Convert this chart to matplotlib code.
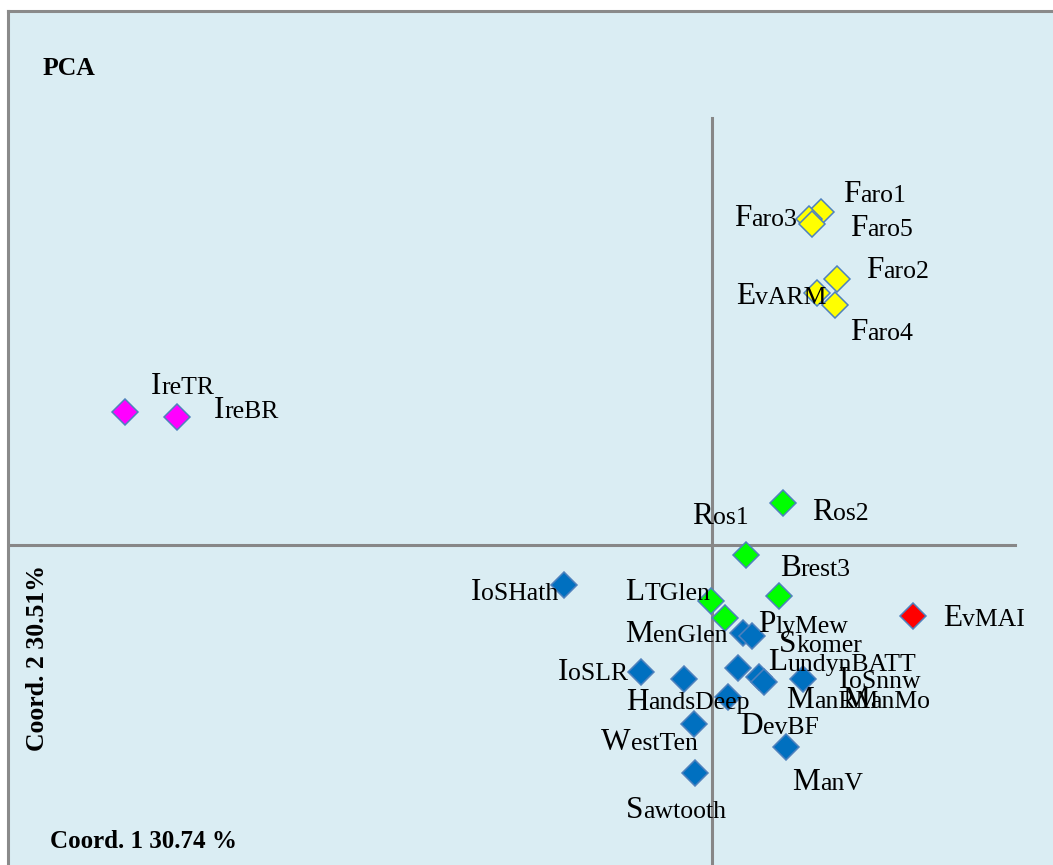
import matplotlib
matplotlib.use("Agg")
import matplotlib.pyplot as plt
from matplotlib.offsetbox import TextArea, HPacker, AnnotationBbox

# SAMPLE NAMES AND PCA COORDINATES
samples = ["Faro1", "Faro3", "Faro5", "Faro2", "EvARM", "Faro4",
           "IreTR", "IreBR",
           "Ros2", "Ros1", "Brest3", "LTGlen", "PlyMew",
           "EvMAI",
           "IoSHath", "MenGlen", "Skomer", "IoSLR", "HandsDeep", "LundynBATT",
           "IoSnnw", "ManRM", "ManMo", "DevBF", "WestTen", "ManV", "Sawtooth"]
coord1 = [1.09, 0.97, 1.00, 1.25, 1.05, 1.23,
          -5.87, -5.35,
          0.71, 0.34, 0.67, -0.01, 0.13,
          2.01,
          -1.48, 0.31, 0.40, -0.71, -0.28, 0.26,
          0.91, 0.47, 0.52, 0.16, -0.18, 0.74, -0.17]
coord2 = [3.33, 3.26, 3.21, 2.66, 2.52, 2.40,
          1.33, 1.28,
          0.42, -0.10, -0.51, -0.56, -0.73,
          -0.71,
          -0.40, -0.88, -0.91, -1.27, -1.34, -1.23,
          -1.34, -1.32, -1.37, -1.52, -1.79, -2.02, -2.28]
groups = ["Faro"] * 6 + ["Ire"] * 2 + ["Green"] * 5 + ["EvMAI"] + ["Blue"] * 13

# STYLE
group_colors = {"Faro": "#FFFF00", "Ire": "#FF00FF", "Green": "#00FF00",
                "EvMAI": "#FF0000", "Blue": "#0070C0"}
# label offsets from the marker, in pixels (right, down)
label_offsets = [(22, -17), (-75, 0), (38, 5), (29, -8), (-81, 3), (15, 27),
                 (26, -25), (37, -7),
                 (29, 10), (-54, -39), (1, -27), (-86, -8), (33, 7),
                 (30, 2),
                 (-93, 8), (-118, 2), (27, 8), (-83, 1), (-58, 23), (30, -5),
                 (36, 1), (27, 23), (78, 18), (12, 29), (-93, 18), (6, 35), (-69, 37)]

bg = "#DAEDF3"
line_grey = "#878787"

fig = plt.figure(figsize=(10.53, 8.65), dpi=100)
fig.patch.set_facecolor("white")
ax = fig.add_axes([8 / 1053, 0, 1045 / 1053, 854 / 865])
ax.set_facecolor(bg)
ax.set_xlim(-7.04, 3.41)
ax.set_ylim(-3.20, 5.34)
ax.set_xticks([])
ax.set_yticks([])
for side in ["right", "bottom"]:
    ax.spines[side].set_visible(False)
for side in ["left", "top"]:
    ax.spines[side].set_color("#8A8A8A")
    ax.spines[side].set_linewidth(2.2)

# AXIS CROSS
ax.plot([0, 0], [-3.20, 4.27], color=line_grey, lw=2.2, zorder=1)
ax.plot([-7.04, 3.03], [0, 0], color=line_grey, lw=2.2, zorder=1)

# POINTS
for i in range(len(samples)):
    ax.plot(coord1[i], coord2[i], marker="D", markersize=13.5,
            markerfacecolor=group_colors[groups[i]], markeredgecolor="#4F81BD",
            markeredgewidth=1.1, linestyle="none", zorder=3)

# LABELS (first letter larger)
font = "Liberation Serif"
for i in range(len(samples)):
    name = samples[i]
    first = TextArea(name[0], textprops=dict(size=22.5, family=font, color="black"))
    rest = TextArea(name[1:], textprops=dict(size=18.5, family=font, color="black"))
    box = HPacker(children=[first, rest], align="baseline", pad=0, sep=0)
    dx, dy = label_offsets[i]
    ab = AnnotationBbox(box, (coord1[i], coord2[i]), xybox=(dx * 0.72, -dy * 0.72),
                        xycoords="data", boxcoords="offset points",
                        box_alignment=(0, 0.5), frameon=False, pad=0, zorder=4)
    ax.add_artist(ab)

# TITLES
ax.text(0.0335, 0.933, "PCA", transform=ax.transAxes, fontsize=18.5,
        fontweight="bold", family=font, va="center", ha="left")
ax.text(0.040, 0.027, "Coord. 1 30.74 %", transform=ax.transAxes, fontsize=18,
        fontweight="bold", family=font, va="center", ha="left")
ax.text(0.028, 0.242, "Coord. 2 30.51%", transform=ax.transAxes, fontsize=18.5,
        fontweight="bold", family=font, va="center", ha="center", rotation=90)

fig.savefig("out.png", dpi=100, facecolor="white")
